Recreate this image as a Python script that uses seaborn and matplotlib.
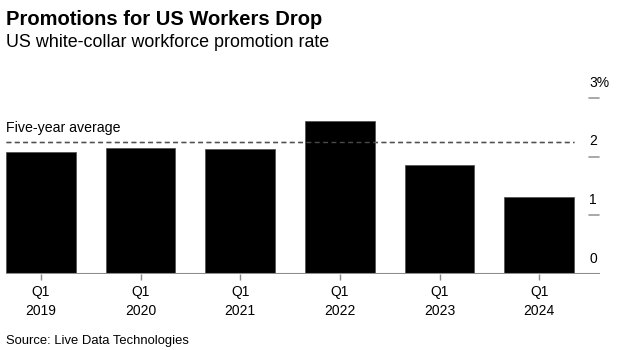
import matplotlib
matplotlib.use("Agg")
import matplotlib.pyplot as plt
import matplotlib.transforms as mtransforms
import seaborn as sns
import pandas as pd

# promotion rate by year (Q1), in percent
quarters = ["Q1\n2019", "Q1\n2020", "Q1\n2021", "Q1\n2022", "Q1\n2023", "Q1\n2024"]
rates = [2.07, 2.15, 2.12, 2.60, 1.85, 1.31]
five_year_avg = 2.25
ytick_vals = [0, 1, 2, 3]
ytick_text = ["0", "1", "2", "3%"]

df = pd.DataFrame({"quarter": quarters, "rate": rates})

sns.set_style("white")
plt.rcParams["font.family"] = ["Liberation Sans", "DejaVu Sans"]
plt.rcParams["text.color"] = "black"
plt.rcParams["xtick.color"] = "black"

fig = plt.figure(figsize=(6.2, 3.5), dpi=100)
ax = fig.add_axes([6 / 620, 76 / 350, 594 / 620, 188 / 350])

sns.barplot(data=df, x="quarter", y="rate", color="black", width=0.7,
            edgecolor="#555555", linewidth=0.6, saturation=1, ax=ax, zorder=2)

# five-year average line: dark under the bars, grey over them
n = len(quarters)
ax.hlines(five_year_avg, -0.35, n - 1 + 0.35, colors="#111111", linestyles=(0, (3.5, 2.5)),
          linewidth=1, zorder=1)
ax.hlines(five_year_avg, -0.35, n - 1 + 0.35, colors="#888888", linestyles=(0, (3.5, 2.5)),
          linewidth=1, zorder=3, alpha=0.55)
ax.text(-0.35, five_year_avg + 0.11, "Five-year average", fontsize=10.2, ha="left",
        va="bottom")

ax.set_xlim(-0.35, 5.61)
ax.set_ylim(0, 3.2)

# y labels sit on the right, above short tick marks
trans = mtransforms.blended_transform_factory(ax.transAxes, ax.transData)
for v, t in zip(ytick_vals, ytick_text):
    if v > 0:
        ax.plot([0.9815, 0.9985], [v, v], color="#999999", lw=1.2, transform=trans,
                clip_on=False)
    ax.text(0.9815, v + 0.14, t, fontsize=10, ha="left", va="bottom", transform=trans)

ax.axhline(0, color="#8c8c8c", lw=1.5, zorder=4)
for s in ax.spines.values():
    s.set_visible(False)
ax.set_yticks([])
ax.set_xlabel("")
ax.set_ylabel("")
ax.tick_params(axis="x", length=4, width=1, color="#8c8c8c", labelcolor="black", pad=4,
               labelsize=10, bottom=True)
for lab in ax.get_xticklabels():
    lab.set_linespacing(1.45)

fig.text(6 / 620, 1 - 25 / 350, "Promotions for US Workers Drop", fontsize=14.5,
         fontweight="bold", ha="left", va="baseline")
fig.text(6 / 620, 1 - 47 / 350, "US white-collar workforce promotion rate", fontsize=12.9,
         ha="left", va="baseline")
fig.text(6 / 620, 1 - 344 / 350, "Source: Live Data Technologies", fontsize=9.4,
         ha="left", va="baseline")

fig.savefig("out.png", dpi=100)
